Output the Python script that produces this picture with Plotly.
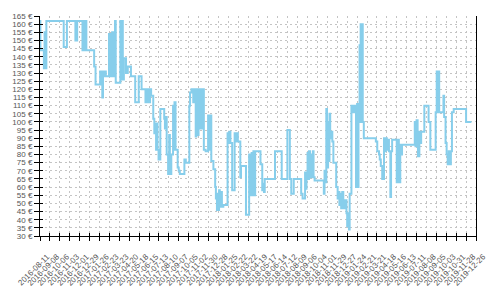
import plotly.graph_objects as go

dates = [
    "2016-08-11", "2016-08-12", "2016-08-22", "2016-08-24", "2016-08-26", "2016-08-29",
    "2016-10-17", "2016-10-26", "2016-11-19", "2016-11-24",
    "2016-12-09", "2016-12-11", "2016-12-14", "2016-12-17", "2016-12-20",
    "2017-01-11", "2017-01-15", "2017-01-28", "2017-01-30", "2017-02-01", "2017-02-03",
    "2017-02-05", "2017-02-09", "2017-02-11", "2017-02-13",
    "2017-02-22", "2017-02-24", "2017-02-26", "2017-03-01", "2017-03-03", "2017-03-05",
    "2017-03-07", "2017-03-10", "2017-03-11", "2017-03-13",
    "2017-03-26", "2017-03-29", "2017-03-31", "2017-04-02", "2017-04-05", "2017-04-11",
    "2017-04-16", "2017-04-25", "2017-05-07", "2017-05-17", "2017-05-25",
    "2017-06-05", "2017-06-07", "2017-06-10", "2017-06-13", "2017-06-15", "2017-06-18",
    "2017-06-21", "2017-06-27", "2017-06-30", "2017-07-02", "2017-07-05", "2017-07-07",
    "2017-07-09", "2017-07-12", "2017-07-17", "2017-07-28", "2017-07-30", "2017-08-02",
    "2017-08-04", "2017-08-08", "2017-08-11", "2017-08-13", "2017-08-17",
    "2017-08-22", "2017-08-24", "2017-08-26", "2017-08-29",
    "2017-09-04", "2017-09-07", "2017-09-10", "2017-09-23", "2017-09-27",
    "2017-10-07", "2017-10-09", "2017-10-13", "2017-10-18", "2017-10-20",
    "2017-10-25", "2017-10-27", "2017-10-30", "2017-11-02", "2017-11-05", "2017-11-08",
    "2017-11-10", "2017-11-13", "2017-11-17", "2017-11-22",
    "2017-11-29", "2017-12-02", "2017-12-04", "2017-12-08", "2017-12-14", "2017-12-19",
    "2017-12-21", "2017-12-24", "2017-12-26", "2017-12-28", "2017-12-30",
    "2018-01-01", "2018-01-04", "2018-01-07", "2018-01-11",
    "2018-01-23", "2018-01-25", "2018-01-28", "2018-01-31", "2018-02-05", "2018-02-12",
    "2018-02-14", "2018-02-16", "2018-02-21", "2018-02-28", "2018-03-02", "2018-03-16",
    "2018-03-25", "2018-03-29", "2018-04-01", "2018-04-04", "2018-04-06", "2018-04-08",
    "2018-04-11", "2018-04-26", "2018-05-01", "2018-05-04", "2018-05-06", "2018-05-08",
    "2018-06-06", "2018-06-25", "2018-07-11", "2018-07-18", "2018-07-22", "2018-07-29",
    "2018-08-19", "2018-08-23", "2018-08-30", "2018-09-01", "2018-09-03",
    "2018-09-06", "2018-09-08", "2018-09-10", "2018-09-13", "2018-09-15", "2018-09-18",
    "2018-09-21", "2018-09-23", "2018-09-26",
    "2018-10-22", "2018-10-24", "2018-10-26", "2018-10-29", "2018-10-31", "2018-11-03",
    "2018-11-05", "2018-11-07", "2018-11-09", "2018-11-12", "2018-11-15", "2018-11-18",
    "2018-11-26", "2018-11-30", "2018-12-02", "2018-12-05", "2018-12-07", "2018-12-10",
    "2018-12-13", "2018-12-16", "2018-12-21", "2018-12-25", "2018-12-27", "2018-12-30",
    "2019-01-01", "2019-01-03", "2019-01-08", "2019-01-13", "2019-01-17",
    "2019-01-21", "2019-01-24", "2019-01-26", "2019-01-28", "2019-01-31", "2019-02-01",
    "2019-02-03", "2019-02-05", "2019-02-06", "2019-02-09", "2019-02-12",
    "2019-03-18", "2019-03-22", "2019-03-27", "2019-03-29", "2019-04-01", "2019-04-05",
    "2019-04-10", "2019-04-12", "2019-04-15", "2019-04-18", "2019-04-21", "2019-04-24",
    "2019-04-28", "2019-04-30", "2019-05-03",
    "2019-05-16", "2019-05-19", "2019-05-22", "2019-05-26", "2019-05-29", "2019-05-31",
    "2019-07-06", "2019-07-08", "2019-07-11", "2019-07-14", "2019-07-15",
    "2019-07-19", "2019-07-22", "2019-07-24", "2019-08-02", "2019-08-14", "2019-08-19",
    "2019-09-03", "2019-09-06", "2019-09-08", "2019-09-10", "2019-09-13",
    "2019-09-25", "2019-09-27", "2019-10-01", "2019-10-04", "2019-10-07", "2019-10-10",
    "2019-10-13", "2019-10-16", "2019-10-19", "2019-10-24", "2019-11-28", "2019-12-13",
]

prices = [
    162, 144, 133, 155, 133, 162,
    146, 162, 150, 162,
    144, 162, 144, 162, 144,
    134, 123, 131, 123, 131, 115,
    131, 128, 131, 128,
    154, 128, 154, 128, 155, 128,
    155, 128, 162, 124,
    162, 126, 162, 126, 139, 130,
    134, 128, 112, 128, 120,
    112, 120, 112, 120, 112, 120,
    116, 102, 93, 99, 83, 99,
    83, 77, 108, 102, 96, 103,
    80, 68, 92, 68, 80,
    110, 83, 112, 83,
    72, 70, 68, 77, 75,
    110, 118, 120, 112, 120,
    91, 120, 92, 120, 96, 120,
    96, 120, 83, 82,
    104, 83, 104, 76, 71, 60,
    53, 46, 56, 46, 58,
    48, 57, 48, 49,
    93, 87, 94, 87, 58, 93,
    88, 93, 88, 66, 73, 43,
    80, 55, 81, 55, 82, 55,
    82, 74, 58, 62, 57, 65,
    82, 65, 95, 65, 56, 65,
    56, 53, 69, 59, 68,
    81, 65, 82, 66, 80, 66,
    82, 66, 64,
    56, 70, 63, 108, 72, 100,
    76, 105, 90, 94, 88, 75,
    60, 53, 57, 49, 56, 47,
    57, 47, 52, 44, 36, 44,
    34, 56, 110, 106, 110,
    60, 111, 60, 111, 147, 100,
    160, 100, 160, 100, 90,
    88, 82, 80, 77, 73, 65,
    90, 82, 90, 83, 89, 82,
    54, 82, 89,
    63, 89, 63, 86, 80, 86,
    100, 85, 101, 85, 79,
    94, 87, 94, 110, 100, 83,
    106, 131, 106, 131, 106,
    116, 103, 87, 80, 74, 82,
    74, 82, 106, 108, 100, 100,
]

x_start = "2016-08-11"
x_end = "2019-12-26"
y_min, y_max = 30, 165

font_family = "Liberation Sans, Arial, sans-serif"
grid_col = "#c4c4c4"
text_col = "#555555"

fig = go.Figure()
fig.add_trace(go.Scatter(
    x=dates, y=prices, mode="lines", line_shape="hv",
    line=dict(color="#87CEEB", width=2), hoverinfo="skip", showlegend=False,
))
# helper empty trace for the overlay axes (inner half of crossing ticks)
fig.add_trace(go.Scatter(x=[], y=[], xaxis="x2", yaxis="y2", showlegend=False,
                         hoverinfo="skip"))

day_ms = 86400000
fig.update_layout(
    width=500, height=300,
    margin=dict(l=37, r=15, t=15, b=53),
    paper_bgcolor="white", plot_bgcolor="white",
    font=dict(family=font_family, color=text_col),
    showlegend=False,
    xaxis=dict(
        type="date", range=[x_start, x_end],
        tick0=x_start, dtick=28 * day_ms, tickformat="%Y-%m-%d",
        tickangle=-45, tickfont=dict(size=8, color=text_col),
        ticklabelstandoff=8, ticklabelshift=7,
        ticks="outside", ticklen=4, tickcolor="black", tickwidth=1,
        showline=True, linecolor="black", linewidth=1, mirror=False,
        showgrid=True, gridcolor=grid_col, gridwidth=1, griddash="2px,3px",
        zeroline=False, fixedrange=True,
    ),
    yaxis=dict(
        range=[y_min, y_max], tick0=0, dtick=5, ticksuffix=" €",
        tickfont=dict(size=8, color=text_col),
        ticks="outside", ticklen=5, tickcolor="black", tickwidth=1,
        showline=True, linecolor="black", linewidth=1, mirror=True,
        showgrid=True, gridcolor=grid_col, gridwidth=1, griddash="2px,3px",
        zeroline=False, fixedrange=True,
    ),
    xaxis2=dict(
        type="date", range=[x_start, x_end], overlaying="x", anchor="y2", side="bottom",
        tick0=x_start, dtick=28 * day_ms, showticklabels=False,
        ticks="inside", ticklen=3, tickcolor="black", tickwidth=1,
        showline=False, showgrid=False, zeroline=False, fixedrange=True,
    ),
    yaxis2=dict(
        range=[y_min, y_max], overlaying="y", anchor="x2", side="left",
        tick0=0, dtick=5, showticklabels=False,
        ticks="inside", ticklen=3, tickcolor="black", tickwidth=1,
        showline=False, showgrid=False, zeroline=False, fixedrange=True,
    ),
)

fig.write_html("out.html")
